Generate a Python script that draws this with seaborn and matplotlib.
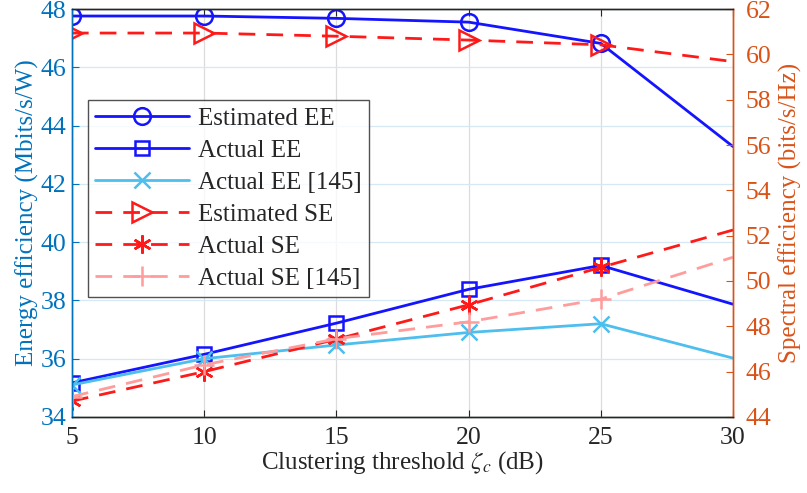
import numpy as np
import pandas as pd
import matplotlib
matplotlib.use("Agg")
import matplotlib.pyplot as plt
import seaborn as sns

threshold = [5, 10, 15, 20, 25, 30]
est_ee = [47.76, 47.76, 47.68, 47.55, 46.82, 43.28]
act_ee = [35.17, 36.15, 37.22, 38.38, 39.2, 37.87]
act_ee_145 = [35.1, 36.0, 36.47, 36.9, 37.2, 36.02]
est_se = [60.94, 60.94, 60.8, 60.63, 60.42, 59.68]
act_se = [44.7, 46.0, 47.43, 48.95, 50.6, 52.25]
act_se_145 = [44.9, 46.3, 47.45, 48.2, 49.2, 51.05]

sns.set_style("ticks")
plt.rcParams['font.family'] = ['Liberation Serif', 'DejaVu Serif']
plt.rcParams['mathtext.fontset'] = 'stix'

left_c = '#0072BD'
right_c = '#D95319'
blue = '#1414FF'
lblue = '#4DBEEE'
red = '#FF1A1A'
pink = '#FF9C9C'

fig = plt.figure(figsize=(8.07, 4.93), dpi=100)
ax = fig.add_axes([0.0892, 0.1542, 0.8191, 0.8275])
ax2 = ax.twinx()

df = pd.DataFrame({'x': threshold, 'est_ee': est_ee, 'act_ee': act_ee,
                   'act_ee_145': act_ee_145, 'est_se': est_se,
                   'act_se': act_se, 'act_se_145': act_se_145})

lw = 2.0
dash = (6, 4)
mk = [0, 1, 2, 3, 4]
common = dict(lw=lw, mfc='none', mew=1.8, markevery=mk, legend=False)
sns.lineplot(data=df, x='x', y='est_ee', ax=ax, color=blue, marker='o', ms=12,
             mec=blue, label='Estimated EE', **common)
sns.lineplot(data=df, x='x', y='act_ee', ax=ax, color=blue, marker='s', ms=10,
             mec=blue, label='Actual EE', **common)
sns.lineplot(data=df, x='x', y='act_ee_145', ax=ax, color=lblue, marker='x', ms=11,
             mec=lblue, label='Actual EE [145]', **common)
sns.lineplot(data=df, x='x', y='est_se', ax=ax2, color=red, marker='>', ms=14,
             mec=red, label='Estimated SE', **common)
sns.lineplot(data=df, x='x', y='act_se', ax=ax2, color=red, marker=(6, 2, 0), ms=13,
             mec=red, label='Actual SE', **common)
sns.lineplot(data=df, x='x', y='act_se_145', ax=ax2, color=pink, marker='+', ms=15,
             mec=pink, label='Actual SE [145]', **common)
for l in ax2.get_lines():
    l.set_linestyle((0, dash))

ax.set_xlim(5, 30)
ax.set_ylim(34, 48)
ax2.set_ylim(44, 62)
ax.set_xticks(threshold)
ax.set_yticks(np.arange(34, 49, 2))
ax2.set_yticks(np.arange(44, 63, 2))

fs_lab = 18
fs_tick = 18.5
ax.set_xlabel(r'Clustering threshold $\zeta_c$ (dB)', fontsize=fs_lab, color='#262626', labelpad=0)
ax.set_ylabel('Energy efficiency (Mbits/s/W)', fontsize=fs_lab, color=left_c, labelpad=1)
ax2.set_ylabel('Spectral efficiency (bits/s/Hz)', fontsize=fs_lab, color=right_c, labelpad=5)

ax.tick_params(axis='x', direction='in', length=5, labelsize=fs_tick, colors='#262626',
               top=True, pad=7)
ax.tick_params(axis='y', direction='in', length=5, labelsize=fs_tick, colors=left_c, pad=4)
ax2.tick_params(axis='y', direction='in', length=5, labelsize=fs_tick, colors=right_c, pad=9)

for a in (ax, ax2):
    for s in a.spines.values():
        s.set_linewidth(1.0)
ax.spines['left'].set_color(left_c)
ax2.spines['left'].set_color(left_c)
ax2.spines['right'].set_color(right_c)
ax.spines['right'].set_color(right_c)
for a in (ax, ax2):
    a.spines['top'].set_color('#262626')
    a.spines['bottom'].set_color('#262626')

ax.xaxis.grid(True, color='#DCDCDC', lw=0.9)
ax.yaxis.grid(True, color='#D6E8F4', lw=0.9)
ax.set_axisbelow(True)

h1, l1 = ax.get_legend_handles_labels()
h2, l2 = ax2.get_legend_handles_labels()
leg = ax2.legend(h1 + h2, l1 + l2, loc='upper left', bbox_to_anchor=(0.024, 0.777),
                 fontsize=18, frameon=True, fancybox=False, edgecolor='#262626',
                 handlelength=3.75, handletextpad=0.35, borderpad=0.3, labelspacing=0.38,
                 borderaxespad=0)
leg.get_frame().set_linewidth(1.0)

fig.savefig('out.png', dpi=100)
